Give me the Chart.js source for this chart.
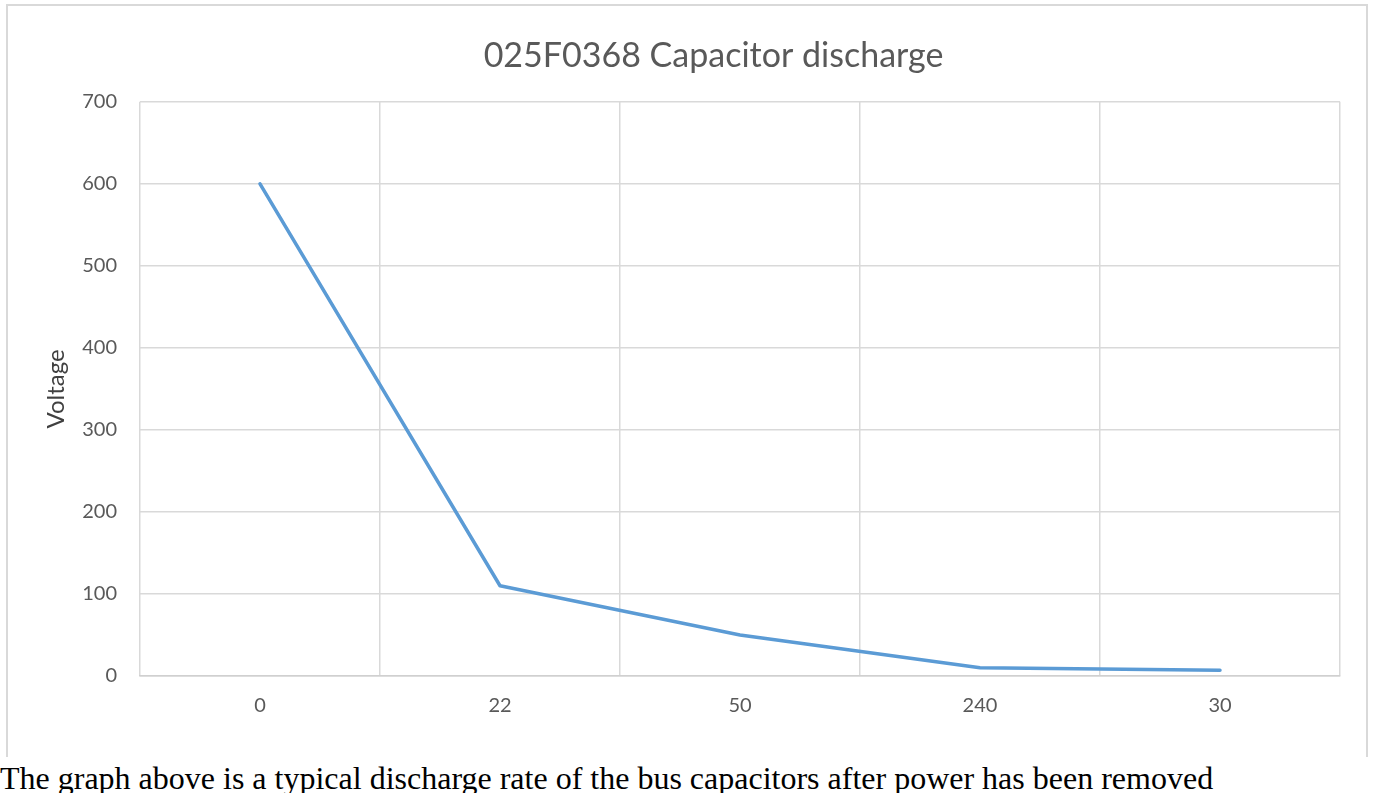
<!DOCTYPE html>
<html>
<head>
<meta charset="utf-8">
<script src="https://cdn.jsdelivr.net/npm/chart.js@4"></script>
<style>
  html, body { margin: 0; padding: 0; background: #fff; overflow: hidden; width: 1375px; height: 793px; }
  #frame {
    position: absolute; left: 6px; top: 4px; width: 1362px; height: 820px;
    border: 2px solid #d9d9d9; box-sizing: border-box; pointer-events: none;
  }
  #wrap { position: absolute; left: 0; top: 0; width: 1375px; height: 760px; }
  #note {
    position: absolute; left: 0; top: 757px; width: 1375px; height: 40px;
    background: #fff; padding-top: 5px; box-sizing: border-box;
    font-family: 'Liberation Serif', 'Times New Roman', serif;
    font-size: 32px; line-height: 32px; color: #000; white-space: nowrap;
  }
</style>
</head>
<body>
<div id="wrap"><canvas id="chartDischarge"></canvas></div>
<div id="frame"></div>
<div id="note">The graph above is a typical discharge rate of the bus capacitors after power has been removed</div>

<script>
// chart data
const TIME_LABELS = ['0', '22', '50', '240', '30'];
const VOLTAGE = [600, 110, 50, 10, 7];
const Y_TICKS = [0, 100, 200, 300, 400, 500, 600, 700];

const TITLE = '025F0368 Capacitor discharge';
const GRID = '#d9d9d9';
const TEXT = '#595959';

function createDischargeChart() {
  const ctx = document.getElementById('chartDischarge');
  if (!ctx) return;

  new Chart(ctx, {
    type: 'line',
    data: {
      labels: TIME_LABELS,
      datasets: [{
        label: 'Voltage',
        data: VOLTAGE,
        borderColor: '#5B9BD5',
        borderWidth: 3.5,
        borderCapStyle: 'round',
        borderJoinStyle: 'round',
        pointRadius: 0,
        tension: 0,
        fill: false
      }]
    },
    options: {
      responsive: true,
      maintainAspectRatio: false,
      animation: false,
      layout: { padding: { left: 0, right: 35, top: 0, bottom: 0 } },
      plugins: {
        legend: { display: false },
        tooltip: { enabled: false },
        title: {
          display: true,
          // leading spaces nudge the centred title right, as in the original
          text: ' '.repeat(10) + TITLE,
          color: TEXT,
          font: { family: 'Lato', size: 34, weight: 'normal' },
          padding: { top: 36, bottom: 25 }
        }
      },
      scales: {
        x: {
          offset: true,
          grid: {
            offset: true,
            drawTicks: false,
            color: (c) => c.index === TIME_LABELS.length ? 'rgba(0,0,0,0)' : GRID,
            lineWidth: 1.5
          },
          border: { display: true, color: '#d0d0d0', width: 1.5 },
          ticks: {
            color: TEXT,
            padding: 18,
            font: { family: 'Lato', size: 20 }
          },
          afterFit: (axis) => { axis.height = 84; }
        },
        y: {
          min: 0,
          max: 700,
          afterBuildTicks: (axis) => { axis.ticks = Y_TICKS.map(v => ({ value: v })); },
          grid: { color: GRID, drawTicks: false, lineWidth: 1.5 },
          border: { display: false },
          ticks: {
            color: TEXT,
            padding: 23,
            font: { family: 'Lato', size: 20 }
          },
          title: {
            display: true,
            text: 'Voltage',
            color: '#404040',
            font: { family: 'Lato', size: 24 },
            padding: { top: 42, bottom: 0 }
          },
          afterFit: (axis) => { axis.width = 140; }
        }
      }
    }
  });
}

document.addEventListener('DOMContentLoaded', createDischargeChart);
</script>
</body>
</html>
